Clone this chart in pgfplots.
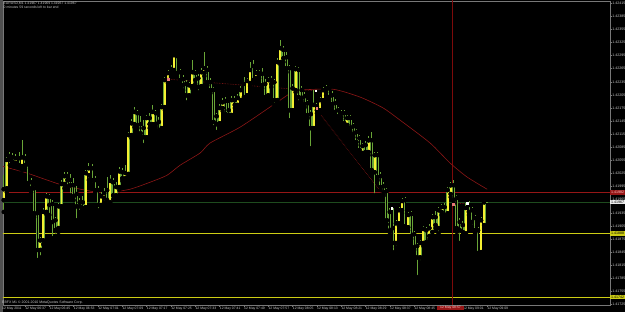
\documentclass[border=0pt]{standalone}
\usepackage{fontspec}
\setmainfont{Liberation Sans}
\usepackage{pgfplots}
\usepackage{pgfplotstable}
\pgfplotsset{compat=1.18}
\definecolor{wickc}{RGB}{105,165,55}
\definecolor{bullc}{RGB}{245,240,50}
\definecolor{mac}{RGB}{140,22,22}
\definecolor{redl}{RGB}{150,22,22}
\definecolor{vred}{RGB}{125,10,10}
\definecolor{greenl}{RGB}{30,75,30}
\definecolor{yell}{RGB}{205,205,20}
\definecolor{framec}{RGB}{120,120,120}
\definecolor{txtc}{RGB}{200,200,200}
\definecolor{pinkm}{RGB}{230,120,120}
\definecolor{leftc}{RGB}{80,80,80}
\definecolor{redtxt}{RGB}{255,200,200}

\pgfplotstableread{
i o h l c
-7 1.41964 1.42021 1.41937 1.41989
-6 1.41991 1.42062 1.41982 1.42056
-5 1.42056 1.42074 1.42044 1.42065
-4 1.42062 1.42072 1.42042 1.42051
-3 1.42049 1.42069 1.42040 1.42060
-2 1.42060 1.42074 1.42037 1.42044
-1 1.42042 1.42101 1.42033 1.42062
0 1.42060 1.42069 1.42037 1.42044
1 1.42046 1.42051 1.41998 1.42003
2 1.42005 1.42014 1.41982 1.41991
3 1.41991 1.41996 1.41925 1.41934
4 1.41934 1.41939 1.41827 1.41850
5 1.41850 1.41879 1.41833 1.41872
6 1.41872 1.41946 1.41863 1.41937
7 1.41937 1.41980 1.41932 1.41973
8 1.41971 1.41978 1.41930 1.41953
9 1.41955 1.41964 1.41877 1.41914
10 1.41918 1.41925 1.41882 1.41895
11 1.41900 1.41957 1.41891 1.41950
12 1.41950 1.42010 1.41946 1.42001
13 1.42001 1.42028 1.41991 1.42019
14 1.42019 1.42028 1.41996 1.42010
15 1.42010 1.42024 1.41975 1.41998
16 1.41998 1.42014 1.41964 1.41973
17 1.41978 1.41996 1.41918 1.41950
18 1.41950 1.41969 1.41937 1.41959
19 1.41959 1.41973 1.41937 1.41946
20 1.41948 1.42033 1.41941 1.42026
21 1.42021 1.42049 1.42010 1.42037
22 1.42037 1.42046 1.42001 1.42010
23 1.42010 1.42019 1.41980 1.41987
24 1.41987 1.41996 1.41941 1.41953
25 1.41953 1.41982 1.41946 1.41973
26 1.41969 1.41991 1.41959 1.41980
27 1.41987 1.42017 1.41955 1.41964
28 1.41959 1.42021 1.41953 1.42008
29 1.42005 1.42014 1.41966 1.41975
30 1.41975 1.42005 1.41969 1.41994
31 1.41994 1.42040 1.41987 1.42030
32 1.42028 1.42037 1.42008 1.42014
33 1.42014 1.42044 1.42008 1.42026
34 1.42024 1.42120 1.42019 1.42113
35 1.42113 1.42149 1.42106 1.42140
36 1.42138 1.42177 1.42131 1.42166
37 1.42163 1.42170 1.42129 1.42136
38 1.42138 1.42156 1.42111 1.42117
39 1.42129 1.42147 1.42090 1.42108
40 1.42108 1.42159 1.42101 1.42152
41 1.42152 1.42163 1.42129 1.42138
42 1.42138 1.42182 1.42133 1.42166
43 1.42163 1.42170 1.42131 1.42138
44 1.42143 1.42154 1.42117 1.42124
45 1.42129 1.42184 1.42122 1.42177
46 1.42177 1.42246 1.42170 1.42239
47 1.42239 1.42262 1.42232 1.42255
48 1.42255 1.42273 1.42248 1.42264
49 1.42262 1.42301 1.42257 1.42296
50 1.42294 1.42298 1.42248 1.42255
51 1.42257 1.42264 1.42232 1.42239
52 1.42241 1.42250 1.42216 1.42227
53 1.42230 1.42239 1.42188 1.42204
54 1.42204 1.42234 1.42198 1.42227
55 1.42225 1.42285 1.42220 1.42257
56 1.42255 1.42262 1.42230 1.42239
57 1.42243 1.42253 1.42211 1.42223
58 1.42225 1.42266 1.42218 1.42257
59 1.42255 1.42303 1.42248 1.42266
60 1.42262 1.42271 1.42227 1.42234
61 1.42234 1.42243 1.42209 1.42216
62 1.42216 1.42223 1.42131 1.42143
63 1.42156 1.42163 1.42120 1.42138
64 1.42140 1.42184 1.42133 1.42175
65 1.42175 1.42198 1.42168 1.42188
66 1.42191 1.42200 1.42154 1.42161
67 1.42170 1.42186 1.42152 1.42159
68 1.42159 1.42202 1.42152 1.42193
69 1.42193 1.42202 1.42175 1.42182
70 1.42182 1.42207 1.42175 1.42198
71 1.42193 1.42225 1.42186 1.42216
72 1.42230 1.42246 1.42193 1.42200
73 1.42204 1.42243 1.42198 1.42237
74 1.42232 1.42280 1.42225 1.42262
75 1.42271 1.42285 1.42232 1.42239
76 1.42243 1.42262 1.42239 1.42255
77 1.42255 1.42262 1.42243 1.42250
78 1.42253 1.42266 1.42220 1.42227
79 1.42230 1.42241 1.42193 1.42200
80 1.42204 1.42246 1.42198 1.42239
81 1.42230 1.42248 1.42223 1.42239
82 1.42234 1.42241 1.42182 1.42193
83 1.42193 1.42289 1.42188 1.42280
84 1.42280 1.42330 1.42275 1.42312
85 1.42308 1.42317 1.42280 1.42289
86 1.42291 1.42303 1.42257 1.42266
87 1.42266 1.42273 1.42147 1.42170
88 1.42170 1.42230 1.42166 1.42220
89 1.42216 1.42271 1.42211 1.42264
90 1.42262 1.42269 1.42188 1.42200
91 1.42216 1.42225 1.42191 1.42198
92 1.42202 1.42211 1.42177 1.42184
93 1.42186 1.42193 1.42152 1.42159
94 1.42161 1.42170 1.42083 1.42129
95 1.42129 1.42216 1.42122 1.42182
96 1.42179 1.42186 1.42163 1.42170
97 1.42170 1.42200 1.42163 1.42193
98 1.42193 1.42223 1.42186 1.42216
99 1.42211 1.42227 1.42204 1.42220
100 1.42220 1.42225 1.42193 1.42200
101 1.42204 1.42214 1.42177 1.42184
102 1.42186 1.42195 1.42159 1.42166
103 1.42170 1.42177 1.42147 1.42156
104 1.42154 1.42170 1.42149 1.42163
105 1.42163 1.42170 1.42133 1.42140
106 1.42136 1.42159 1.42129 1.42152
107 1.42152 1.42159 1.42122 1.42129
108 1.42133 1.42140 1.42108 1.42115
109 1.42120 1.42127 1.42090 1.42097
110 1.42106 1.42113 1.42072 1.42079
111 1.42072 1.42095 1.42065 1.42088
112 1.42090 1.42099 1.42067 1.42074
113 1.42074 1.42111 1.42067 1.42101
114 1.42101 1.42120 1.42026 1.42033
115 1.42028 1.42074 1.41975 1.42067
116 1.42067 1.42074 1.42010 1.42017
117 1.42019 1.42028 1.41987 1.41994
118 1.41996 1.42005 1.41975 1.41982
119 1.41985 1.41991 1.41909 1.41918
120 1.41937 1.41946 1.41886 1.41895
121 1.41900 1.41946 1.41845 1.41866
122 1.41866 1.41918 1.41856 1.41911
123 1.41911 1.41948 1.41904 1.41941
124 1.41941 1.41969 1.41934 1.41962
125 1.41964 1.41971 1.41898 1.41904
126 1.41902 1.41937 1.41895 1.41930
127 1.41932 1.41939 1.41875 1.41882
128 1.41886 1.41893 1.41850 1.41856
129 1.41859 1.41866 1.41788 1.41833
130 1.41833 1.41872 1.41822 1.41866
131 1.41866 1.41904 1.41859 1.41898
132 1.41895 1.41902 1.41861 1.41868
133 1.41882 1.41909 1.41875 1.41900
134 1.41891 1.41932 1.41884 1.41925
135 1.41925 1.41939 1.41900 1.41907
136 1.41900 1.41948 1.41888 1.41941
137 1.41937 1.41955 1.41930 1.41948
138 1.41948 1.41957 1.41923 1.41930
139 1.41934 1.41994 1.41927 1.41987
140 1.41978 1.42005 1.41971 1.41998
141 1.41998 1.42010 1.41957 1.41964
142 1.41969 1.41975 1.41891 1.41900
143 1.41914 1.41923 1.41866 1.41895
144 1.41907 1.41916 1.41884 1.41891
145 1.41888 1.41957 1.41882 1.41946
146 1.41953 1.41962 1.41930 1.41937
147 1.41941 1.41948 1.41904 1.41914
148 1.41923 1.41930 1.41888 1.41895
149 1.41895 1.41902 1.41836 1.41843
150 1.41845 1.41925 1.41838 1.41918
151 1.41907 1.41964 1.41900 1.41959
}\candles

\begin{document}
\begin{tikzpicture}
\path[use as bounding box] (-3pt,-7pt) rectangle (622pt,305pt);
\fill[black] (-3pt,-7pt) rectangle (622pt,305pt);
\fill[leftc] (-3pt,-7pt) rectangle (-0.3pt,305pt);
\begin{axis}[
  at={(0pt,0pt)}, anchor=south west, scale only axis,
  width=607pt, height=304pt,
  xmin=-7.24, xmax=192.4, ymin=1.41724, ymax=1.42420,
  axis line style={draw=framec, line width=0.5pt},
  xtick pos=bottom, ytick pos=right, yticklabel pos=right,
  tick align=outside, major tick length=1.8pt,
  tick style={draw=framec, line width=0.4pt},
  /pgf/number format/assume math mode=true,
  xtick={0,8,16,24,32,40,48,56,64,72,80,88,96,104,112,120,128,136,144,152},
  xticklabels={12 May 06:37,12 May 06:45,12 May 06:53,12 May 07:01,12 May 07:09,12 May 07:17,12 May 07:25,12 May 07:33,12 May 07:41,12 May 07:49,12 May 07:57,12 May 08:05,12 May 08:13,12 May 08:21,12 May 08:29,12 May 08:37,12 May 08:45,12 May 08:53,12 May 09:01,12 May 09:09},
  xticklabel style={font=\fontsize{3.4}{4}\selectfont, text=txtc, anchor=north west, inner sep=0.3pt, xshift=-0.2pt},
  ytick={1.41725,1.41755,1.41785,1.41815,1.41845,1.41875,1.41905,1.41935,1.41965,1.41995,1.42025,1.42055,1.42085,1.42115,1.42145,1.42175,1.42205,1.42235,1.42265,1.42295,1.42325,1.42355,1.42385,1.42415},
  yticklabels={1.41725,1.41755,1.41785,1.41815,1.41845,1.41875,1.41905,1.41935,1.41965,1.41995,1.42025,1.42055,1.42085,1.42115,1.42145,1.42175,1.42205,1.42235,1.42265,1.42295,1.42325,1.42355,1.42385,1.42415},
  yticklabel style={font=\fontsize{3.6}{4}\selectfont, text=txtc, anchor=west, inner sep=0.4pt},
  clip=true,
]
% horizontal and vertical objects
\addplot[yell, line width=0.9pt] coordinates {(-8,1.41742) (193,1.41742)};
\addplot[yell, line width=0.7pt] coordinates {(-8,1.41888) (193,1.41888)};
\addplot[greenl, line width=0.6pt] coordinates {(-8,1.41960) (193,1.41960)};
\addplot[redl, line width=0.6pt] coordinates {(-8,1.41982) (193,1.41982)};
\addplot[vred, line width=0.6pt] coordinates {(140.5,1.41700) (140.5,1.42450)};
% moving average
\addplot[mac, line width=0.6pt, smooth, tension=0.4] coordinates {
(-7.2,1.42042) (-6.6,1.42040) (0.66,1.42026) (12.5,1.41998) (23.7,1.41982) (28.0,1.41982)
(34.5,1.41989) (41.1,1.42005) (46.7,1.42021) (51.0,1.42044) (57.6,1.42072)
(60.9,1.42095) (70.7,1.42131) (81.6,1.42182) (87.8,1.42211) (90.5,1.42216)
(101.3,1.42218) (110.2,1.42200) (117.8,1.42175) (123.4,1.42147) (133.2,1.42095)
(139.8,1.42049) (145.4,1.42017) (152.0,1.41989)};
% dotted objects
\addplot[mac, densely dotted, line width=0.6pt] coordinates {(47.0,1.42241) (96.05,1.42214)};
\addplot[mac, densely dotted, line width=0.6pt] coordinates {(96.05,1.42170) (118.4,1.41971)};
\addplot[mac, densely dotted, line width=0.6pt] coordinates {(140.5,1.41955) (145.4,1.41957)};
% wicks
\addplot[only marks, mark=none, error bars/.cd, y dir=plus, y explicit, error mark=none,
  error bar style={draw=wickc, line width=0.8pt}]
  table[x=i, y=l, y error plus expr={\thisrow{h}-\thisrow{l}}] {\candles};
% bear bodies
\addplot[only marks, mark=none, error bars/.cd, y dir=plus, y explicit, error mark=none,
  error bar style={draw=wickc, line width=2.8pt}]
  table[x=i, y=c, y error plus expr={max(\thisrow{o}-\thisrow{c},0)}] {\candles};
\addplot[only marks, mark=none, error bars/.cd, y dir=plus, y explicit, error mark=none,
  error bar style={draw=black, line width=0.9pt}]
  table[x=i, y=c, y error plus expr={max(\thisrow{o}-\thisrow{c},0)}] {\candles};
% bull bodies
\addplot[only marks, mark=none, error bars/.cd, y dir=plus, y explicit, error mark=none,
  error bar style={draw=wickc, line width=2.8pt}]
  table[x=i, y=o, y error plus expr={max(\thisrow{c}-\thisrow{o},0)}] {\candles};
\addplot[only marks, mark=none, error bars/.cd, y dir=plus, y explicit, error mark=none,
  error bar style={draw=bullc, line width=1.9pt}]
  table[x=i, y=o, y error plus expr={max(\thisrow{c}-\thisrow{o},0)}] {\candles};
% current bar
\addplot[only marks, mark=-, mark size=1.2pt, wickc, line width=0.8pt] coordinates {(152,1.41960)};
% trade markers
\addplot[only marks, mark=square*, mark size=0.8pt, pinkm] coordinates {(47.0,1.42241) (96.0,1.42175) (140.8,1.41955)};
\addplot[only marks, mark=square*, mark size=0.7pt, white] coordinates {(95.7,1.42214) (145.4,1.41957) (120.7,1.41946)};
\coordinate (rl) at (axis cs:192.4,1.41982);
\coordinate (gl) at (axis cs:192.4,1.41960);
\coordinate (y1) at (axis cs:192.4,1.41888);
\coordinate (y2) at (axis cs:192.4,1.41742);
\coordinate (vt) at (axis cs:135.5,1.41724);
\end{axis}
\begin{scope}[every node/.style={font=\fontsize{3.6}{4}\selectfont, inner xsep=0.6pt, inner ysep=0.5pt, anchor=west, minimum height=4.6pt}]
\node[fill=redl, text=redtxt] at ([xshift=0.2pt]rl) {1.41982};
\node[fill=white!92!black, text=black] at ([xshift=0.2pt]gl) {1.41967};
\node[fill=yell, text=black] at ([xshift=0.2pt]y1) {1.41888};
\node[fill=yell, text=black] at ([xshift=0.2pt]y2) {1.41742};
\end{scope}
\node[fill=redl, text=redtxt, font=\fontsize{3.4}{4}\selectfont, anchor=north west, inner xsep=3pt, inner ysep=0.6pt] at ([yshift=-0.6pt]vt) {12 May 08:57};
\node[font=\fontsize{3.4}{4}\selectfont, text=txtc, anchor=north west, inner sep=0.3pt] at (-1.3pt,-2.1pt) {12 May 2011};
\node[font=\fontsize{3.5}{4}\selectfont, text=txtc, anchor=base west, inner sep=0pt] at (-1pt,1pt) {EBFX M1 \textcopyright{} 2001-2010 MetaQuotes Software Corp.};
\node[font=\fontsize{3.4}{4.2}\selectfont, text=txtc, anchor=north west, inner sep=0pt, align=left] at (0.5pt,303pt) {EURUSD,M1 1.41967 1.41969 1.41967 1.41967\\0 minutes 59 seconds left to bar end};
\end{tikzpicture}
\end{document}
